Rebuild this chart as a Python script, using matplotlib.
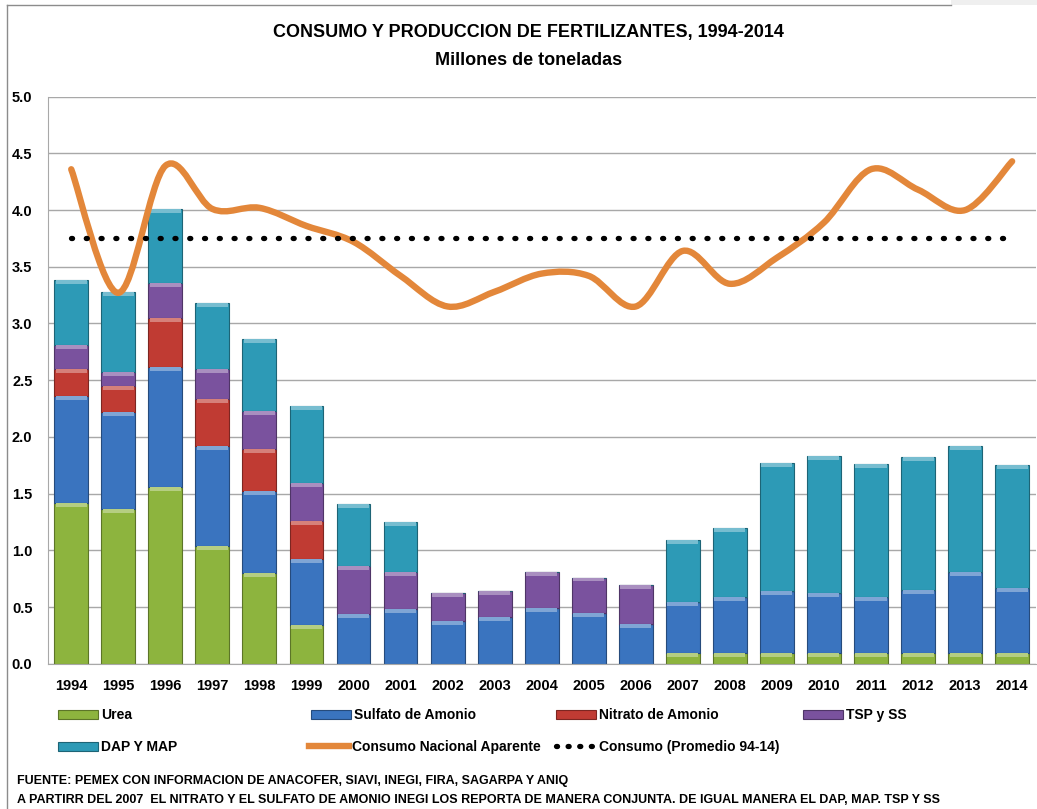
import matplotlib
matplotlib.use("Agg")
import matplotlib.pyplot as plt
import matplotlib.colors as mcolors
import numpy as np
from matplotlib.path import Path
from matplotlib.patches import PathPatch, Patch, Rectangle
from matplotlib.lines import Line2D

# Data (millones de toneladas)
years = ["1994", "1995", "1996", "1997", "1998", "1999", "2000", "2001", "2002", "2003", "2004",
         "2005", "2006", "2007", "2008", "2009", "2010", "2011", "2012", "2013", "2014"]
urea = [1.42, 1.36, 1.56, 1.04, 0.80, 0.34, 0, 0, 0, 0, 0,
        0, 0, 0.09, 0.09, 0.09, 0.09, 0.09, 0.09, 0.09, 0.09]
sulfato = [0.94, 0.86, 1.06, 0.88, 0.72, 0.58, 0.44, 0.48, 0.38, 0.41, 0.49,
           0.45, 0.35, 0.45, 0.50, 0.55, 0.53, 0.50, 0.56, 0.72, 0.58]
nitrato = [0.24, 0.23, 0.43, 0.41, 0.37, 0.34, 0, 0, 0, 0, 0,
           0, 0, 0, 0, 0, 0, 0, 0, 0, 0]
tsp = [0.21, 0.12, 0.31, 0.27, 0.34, 0.33, 0.42, 0.33, 0.24, 0.23, 0.32,
       0.31, 0.34, 0, 0, 0, 0, 0, 0, 0, 0]
dap = [0.57, 0.71, 0.65, 0.58, 0.63, 0.68, 0.55, 0.44, 0, 0, 0,
       0, 0, 0.55, 0.61, 1.13, 1.21, 1.17, 1.17, 1.11, 1.08]
consumo = [4.36, 3.27, 4.39, 4.01, 4.02, 3.86, 3.72, 3.42, 3.15, 3.28, 3.44,
           3.42, 3.15, 3.64, 3.35, 3.58, 3.89, 4.36, 4.18, 4.00, 4.43]
promedio = 3.75

series = [("Urea", urea, "#8db43e"),
          ("Sulfato de Amonio", sulfato, "#3a74bf"),
          ("Nitrato de Amonio", nitrato, "#c03b33"),
          ("TSP y SS", tsp, "#7a529e"),
          ("DAP Y MAP", dap, "#2d9ab6")]
orange = "#e3873a"


def shade(c, f):
    r = np.array(mcolors.to_rgb(c))
    if f > 0:
        return tuple(r + (1 - r) * f)
    return tuple(r * (1 + f))


plt.rcParams["font.family"] = ["Liberation Sans", "DejaVu Sans"]
plt.rcParams["font.weight"] = "bold"

fig = plt.figure(figsize=(10.37, 8.09), dpi=100)
ax = fig.add_axes([0.046, 0.1796, 0.9527, 0.7009])

x = np.arange(len(years))
bottom = np.zeros(len(years))
for name, vals, col in series:
    vals = np.array(vals)
    ax.bar(x, vals, 0.72, bottom=bottom, color=col, edgecolor=shade(col, -0.35),
           linewidth=0.8, zorder=2)
    # lighter bevel strip on top of every segment
    top_h = np.minimum(vals, 0.035)
    ax.bar(x, top_h, 0.66, bottom=bottom + vals - top_h, color=shade(col, 0.35),
           linewidth=0, zorder=2.1)
    bottom += vals

# smoothed consumption line (Bezier through the yearly values)
n = len(consumo)
verts = [(x[0], consumo[0])]
for i in range(n - 1):
    p0 = max(i - 1, 0)
    p3 = min(i + 2, n - 1)
    c1 = (x[i] + (x[i + 1] - x[p0]) / 6, consumo[i] + (consumo[i + 1] - consumo[p0]) / 6)
    c2 = (x[i + 1] - (x[p3] - x[i]) / 6, consumo[i + 1] - (consumo[p3] - consumo[i]) / 6)
    verts += [c1, c2, (x[i + 1], consumo[i + 1])]
codes = [Path.MOVETO] + [Path.CURVE4] * (3 * (n - 1))
ax.add_patch(PathPatch(Path(verts, codes), facecolor="none", edgecolor=orange,
                       lw=4.6, capstyle="round", joinstyle="round", zorder=3))

ax.plot(x, [promedio] * n, color="black", lw=3.8, linestyle=(0, (0.2, 2.6)),
        dash_capstyle="round", zorder=4)

ax.set_xlim(-0.5, n - 0.5)
ax.set_ylim(0, 5.0)
ax.set_yticks(np.arange(0, 5.01, 0.5))
ax.set_yticklabels([f"{v:.1f}" for v in np.arange(0, 5.01, 0.5)])
ax.set_xticks(x)
ax.set_xticklabels(years)
ax.tick_params(axis="y", length=0, pad=11, labelsize=10.5)
ax.tick_params(axis="x", length=0, pad=11, labelsize=10.5)
ax.grid(axis="y", color="#a8a8a8", lw=1, zorder=0)
ax.set_axisbelow(True)
for s in ["top", "right"]:
    ax.spines[s].set_visible(False)
ax.spines["left"].set_color("#a8a8a8")
ax.spines["bottom"].set_color("#a8a8a8")

fig.text(0.510, 0.9604, "CONSUMO Y PRODUCCION DE FERTILIZANTES, 1994-2014",
         ha="center", va="center", fontsize=13)
fig.text(0.510, 0.9258, "Millones de toneladas", ha="center", va="center", fontsize=13)

# legend entries placed on an Excel-like grid
W, H = 1037.0, 809.0


def box(c):
    return Patch(facecolor=c, edgecolor=shade(c, -0.35), lw=0.8)


entries = [(box(series[0][2]), "Urea", 58, 715),
           (box(series[1][2]), "Sulfato de Amonio", 311, 715),
           (box(series[2][2]), "Nitrato de Amonio", 556, 715),
           (box(series[3][2]), "TSP y SS", 803, 715),
           (box(series[4][2]), "DAP Y MAP", 58, 747),
           (Line2D([], [], color=orange, lw=4.6), "Consumo Nacional Aparente", 309, 747),
           (Line2D([], [], color="black", lw=3.8, linestyle=(0, (0.2, 2.0)),
                   dash_capstyle="round"), "Consumo (Promedio 94-14)", 556, 747)]
for h, lab, px, py in entries:
    fig.legend([h], [lab], loc="center left", bbox_to_anchor=(px / W, 1 - py / H),
               frameon=False, borderpad=0, borderaxespad=0, handlelength=2.9,
               handleheight=0.6, handletextpad=0.2, fontsize=10)

fig.text(17 / W, 1 - 781 / H, "FUENTE: PEMEX CON INFORMACION DE ANACOFER, SIAVI, INEGI, FIRA, SAGARPA Y ANIQ",
         ha="left", va="center", fontsize=9)
fig.text(17 / W, 1 - 800 / H,
         "A PARTIRR DEL 2007  EL NITRATO Y EL SULFATO DE AMONIO INEGI LOS REPORTA DE MANERA CONJUNTA. DE IGUAL MANERA EL DAP, MAP. TSP Y SS",
         ha="left", va="center", fontsize=9)

# chart frame
fig.add_artist(Line2D([7 / W, 7 / W], [0, 1 - 5 / H], color="#8c8c8c", lw=1))
fig.add_artist(Line2D([7 / W, 951 / W], [1 - 5 / H, 1 - 5 / H], color="#8c8c8c", lw=1))
fig.add_artist(Rectangle((951 / W, 1 - 5 / H), 1 - 951 / W, 5 / H, color="#efefef", lw=0))

fig.savefig("out.png", dpi=100)
